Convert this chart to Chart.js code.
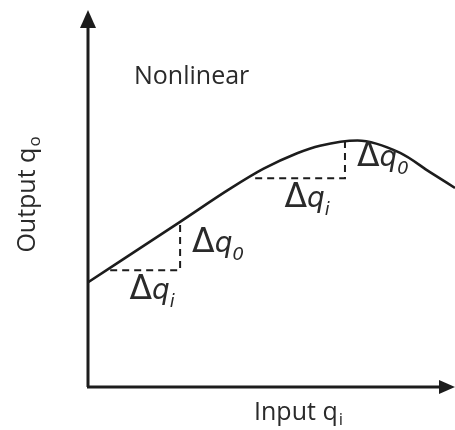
<!DOCTYPE html>
<html>
<head>
<meta charset="utf-8">
<script src="https://cdn.jsdelivr.net/npm/chart.js@4.4.1/dist/chart.umd.min.js"></script>
<style>
  html, body { margin: 0; padding: 0; background: #fff; }
  #wrap { width: 455px; height: 430px; position: relative; }
</style>
</head>
<body>
<div id="wrap"><canvas id="chart"></canvas></div>
<script>
// input / output of the nonlinear response curve (arbitrary units, 0..100)
const curveX = [0, 25.3, 38.9, 48, 57.1, 63.3, 73.5, 85.1, 93.2, 100];
const curveY = [27.6, 43.8, 52.6, 57.9, 62.0, 64.0, 65.4, 62.1, 57.0, 52.8];

// the two small increments drawn as dashed right triangles
const stepLowX = [6.3, 25.3, 25.3];
const stepLowY = [31.0, 31.0, 43.8];
const stepHighX = [45.7, 70.1, 70.1];
const stepHighY = [55.4, 55.4, 65.2];

const titleText = 'Nonlinear';
const xTitle = ['Input q', 'i'];
const yTitle = ['Output q', 'o'];

const toPoints = (xs, ys) => xs.map((x, i) => ({ x, y: ys[i] }));

const ink = '#1c1c1c';

// draws "main" then a lowered subscript, centred on cx
function textWithSub(ctx, parts, cx, baseY) {
  ctx.textAlign = 'left';
  ctx.font = '25px "Open Sans"';
  const w1 = ctx.measureText(parts[0]).width;
  ctx.font = '17px "Open Sans"';
  const w2 = ctx.measureText(parts[1]).width;
  const left = cx - (w1 + w2) / 2;
  ctx.font = '25px "Open Sans"';
  ctx.fillText(parts[0], left, baseY);
  ctx.font = '17px "Open Sans"';
  ctx.fillText(parts[1], left + w1 + 1, baseY + 5);
}

const axesPlugin = {
  id: 'axesAndLabels',
  beforeDatasetsDraw(chart) {
    const { ctx, chartArea: a } = chart;
    ctx.save();
    ctx.strokeStyle = ink;
    ctx.fillStyle = ink;
    ctx.lineWidth = 3;
    // y axis with arrow
    ctx.beginPath();
    ctx.moveTo(a.left + 1, a.bottom);
    ctx.lineTo(a.left + 1, a.top + 14);
    ctx.stroke();
    ctx.beginPath();
    ctx.moveTo(a.left + 1, a.top);
    ctx.lineTo(a.left - 7, a.top + 18);
    ctx.lineTo(a.left + 9, a.top + 18);
    ctx.closePath();
    ctx.fill();
    // x axis with arrow
    ctx.beginPath();
    ctx.moveTo(a.left, a.bottom);
    ctx.lineTo(a.right - 12, a.bottom);
    ctx.stroke();
    ctx.beginPath();
    ctx.moveTo(a.right, a.bottom);
    ctx.lineTo(a.right - 16, a.bottom - 7);
    ctx.lineTo(a.right - 16, a.bottom + 7);
    ctx.closePath();
    ctx.fill();
    ctx.restore();
  },
  afterDatasetsDraw(chart) {
    const { ctx, scales: { x, y } } = chart;
    ctx.save();
    ctx.fillStyle = '#2a2a2a';

    // title
    ctx.font = '25px "Open Sans"';
    ctx.textBaseline = 'alphabetic';
    ctx.textAlign = 'left';
    ctx.fillText(titleText, 134, 84);

    // axis titles
    textWithSub(ctx, xTitle, 298, 420);
    ctx.save();
    ctx.translate(35, 195);
    ctx.rotate(-Math.PI / 2);
    textWithSub(ctx, yTitle, 0, 0);
    ctx.restore();

    // delta labels, placed from the dashed steps
    const deltaLabel = (cx, baseY, sub, alignLeft) => {
      ctx.textAlign = 'left';
      ctx.font = '33px "DejaVu Sans"';
      const wD = ctx.measureText('\u0394').width;
      ctx.font = 'italic 28px "DejaVu Sans"';
      const wQ = ctx.measureText('q').width;
      ctx.font = 'italic 18px "DejaVu Sans"';
      const wS = ctx.measureText(sub).width;
      const total = wD + wQ + wS;
      const left = alignLeft ? cx : cx - total / 2;
      ctx.font = '33px "DejaVu Sans"';
      ctx.fillText('\u0394', left, baseY);
      ctx.font = 'italic 28px "DejaVu Sans"';
      ctx.fillText('q', left + wD, baseY);
      ctx.font = 'italic 18px "DejaVu Sans"';
      ctx.fillText(sub, left + wD + wQ, baseY + 8);
    };

    const steps = [[stepLowX, stepLowY], [stepHighX, stepHighY]];
    steps.forEach(([xs, ys]) => {
      const x0 = x.getPixelForValue(xs[0]);
      const x1 = x.getPixelForValue(xs[1]);
      const yBase = y.getPixelForValue(ys[0]);
      const yTop = y.getPixelForValue(ys[2]);
      deltaLabel((x0 + x1) / 2 + 7, yBase + 29, 'i', false);
      deltaLabel(x1 + 12, (yBase + yTop) / 2 + 6, '0', true);
    });
    ctx.restore();
  }
};

new Chart(document.getElementById('chart'), {
  type: 'scatter',
  data: {
    datasets: [
      {
        data: toPoints(curveX, curveY),
        showLine: true,
        borderColor: ink,
        borderWidth: 2.6,
        pointRadius: 0,
        cubicInterpolationMode: 'monotone',
      },
      {
        data: toPoints(stepLowX, stepLowY),
        showLine: true,
        borderColor: ink,
        borderWidth: 2,
        borderDash: [7, 5],
        pointRadius: 0,
        tension: 0,
      },
      {
        data: toPoints(stepHighX, stepHighY),
        showLine: true,
        borderColor: ink,
        borderWidth: 2,
        borderDash: [7, 5],
        pointRadius: 0,
        tension: 0,
      },
    ],
  },
  options: {
    responsive: true,
    maintainAspectRatio: false,
    animation: false,
    layout: { padding: { left: 87, right: 0, top: 10, bottom: 43 } },
    plugins: { legend: { display: false }, tooltip: { enabled: false } },
    scales: {
      x: { type: 'linear', min: 0, max: 100, display: false },
      y: { type: 'linear', min: 0, max: 100, display: false },
    },
  },
  plugins: [axesPlugin],
});
</script>
</body>
</html>
